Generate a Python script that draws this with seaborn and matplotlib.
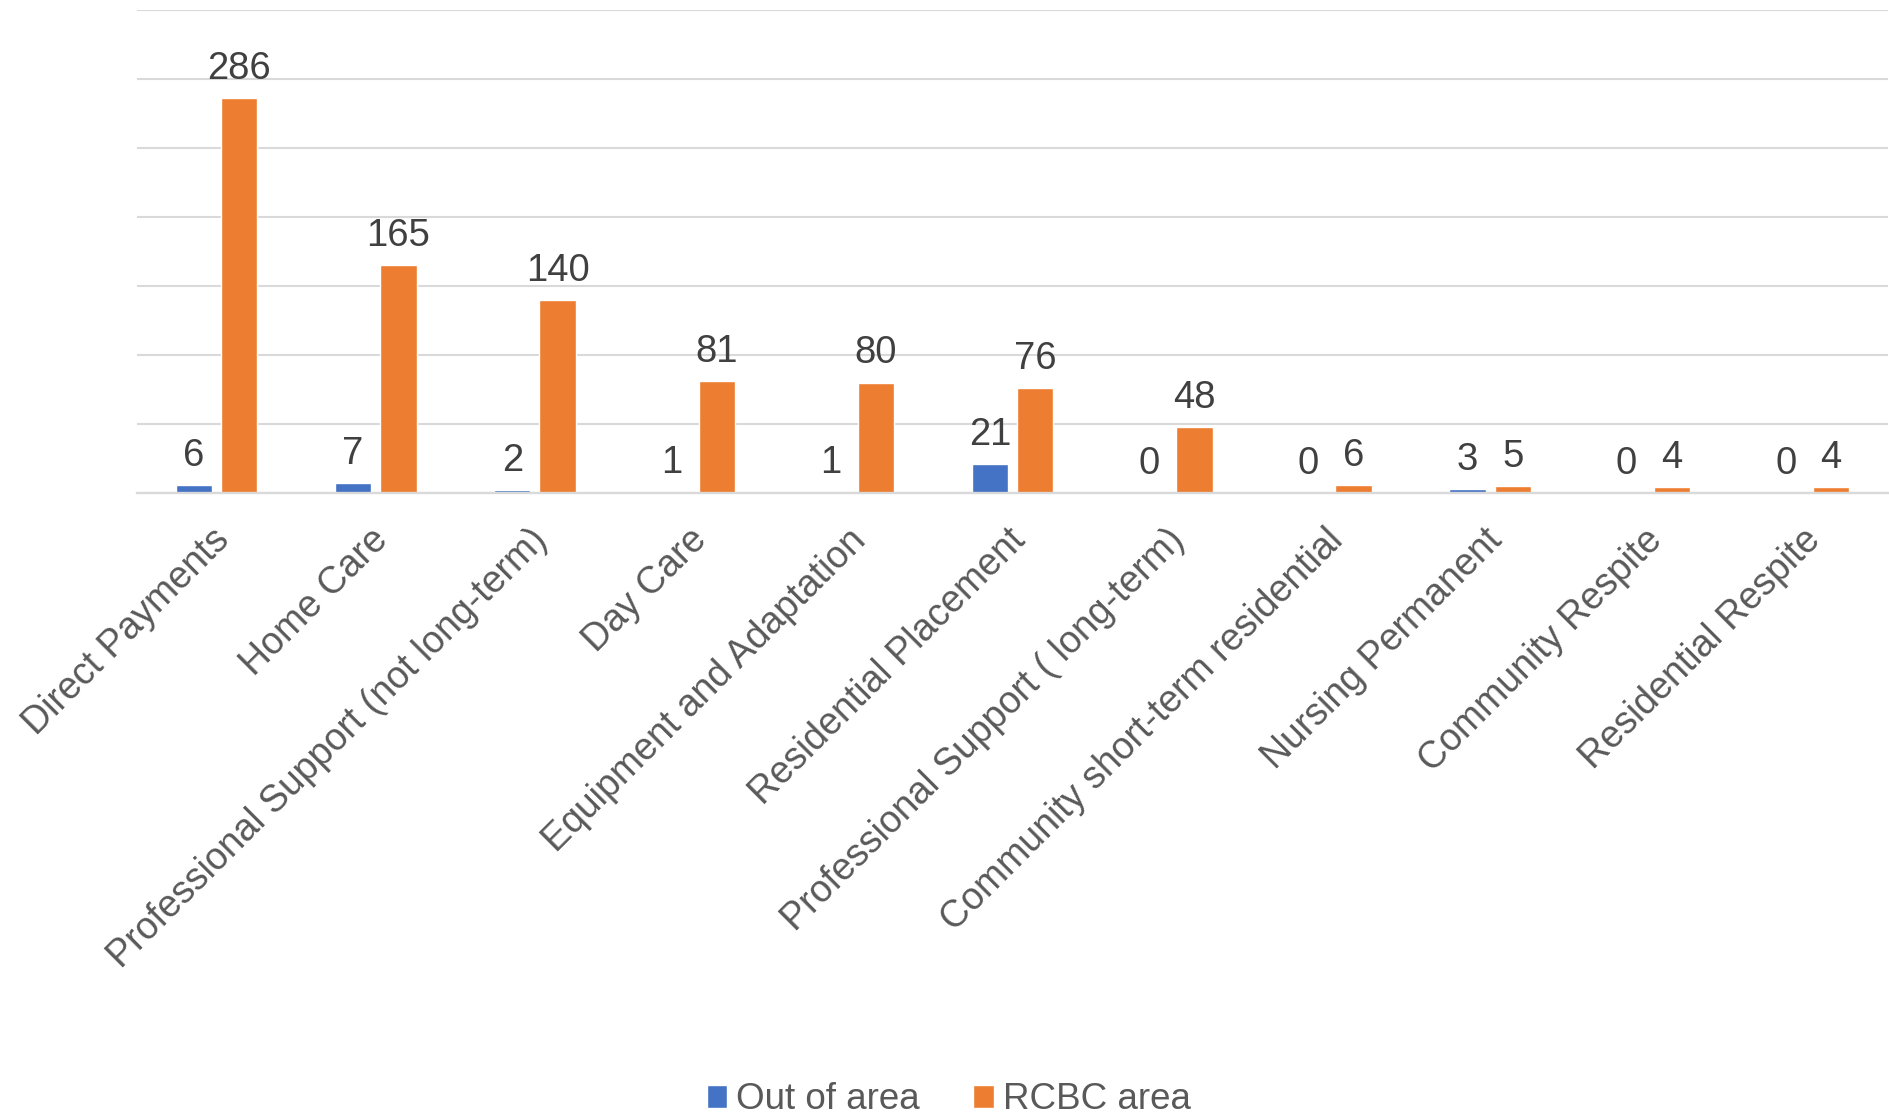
import matplotlib
matplotlib.use("Agg")
import matplotlib.pyplot as plt
import matplotlib.transforms as mtransforms
import seaborn as sns
import pandas as pd

categories = ["Direct Payments", "Home Care", "Professional Support (not long-term)",
              "Day Care", "Equipment and Adaptation", "Residential Placement",
              "Professional Support ( long-term)", "Community short-term residential",
              "Nursing Permanent", "Community Respite", "Residential Respite"]
series_names = ["Out of area", "RCBC area"]
out_of_area = [6, 7, 2, 1, 1, 21, 0, 0, 3, 0, 0]
rcbc_area = [286, 165, 140, 81, 80, 76, 48, 6, 5, 4, 4]
colors = ["#4472C4", "#ED7D31"]

df = pd.DataFrame({
    "category": categories * 2,
    "series": [series_names[0]] * len(categories) + [series_names[1]] * len(categories),
    "value": out_of_area + rcbc_area,
})

sns.set_theme(style="white")
plt.rcParams["font.family"] = ["Liberation Sans", "DejaVu Sans"]

fig = plt.figure(figsize=(18.9, 11.2), dpi=100)
ax = fig.add_axes([137 / 1890, 1 - 493 / 1120, (1888 - 137) / 1890, (493 - 10) / 1120])

sns.barplot(data=df, x="category", y="value", hue="series", order=categories,
            hue_order=series_names, palette=colors, width=0.57, gap=0.2,
            saturation=1, ax=ax, legend=True)

ax.set_ylim(0, 350)
ax.set_xlim(-0.5, len(categories) - 0.5)
ax.set_yticks(range(0, 351, 50))
ax.yaxis.grid(True, color="#D9D9D9", linewidth=1.5)
ax.set_axisbelow(True)
ax.tick_params(axis="y", left=False, labelleft=False)
ax.tick_params(axis="x", bottom=False, pad=24)
for s in ["left", "right", "top"]:
    ax.spines[s].set_visible(False)
ax.spines["bottom"].set_color("#D9D9D9")
ax.spines["bottom"].set_linewidth(1.7)
ax.set_xlabel("")
ax.set_ylabel("")

offset = mtransforms.ScaledTranslation(7 / 100, 0, fig.dpi_scale_trans)
for lab in ax.get_xticklabels():
    lab.set_rotation(45)
    lab.set_ha("right")
    lab.set_va("center")
    lab.set_rotation_mode("anchor")
    lab.set_fontsize(27)
    lab.set_color("#595959")
    lab.set_transform(lab.get_transform() + offset)

for cont in ax.containers:
    ax.bar_label(cont, fmt="%d", padding=8, fontsize=27.5, color="#404040")

handles, labels = ax.get_legend_handles_labels()
ax.get_legend().remove()
fig.legend(handles, labels, loc="center", bbox_to_anchor=(0.502, 0.018), ncol=2,
           frameon=False, fontsize=26.5, labelcolor="#595959",
           handlelength=0.55, handleheight=0.6, handletextpad=0.25,
           columnspacing=1.45)

fig.savefig("out.png", dpi=100)
